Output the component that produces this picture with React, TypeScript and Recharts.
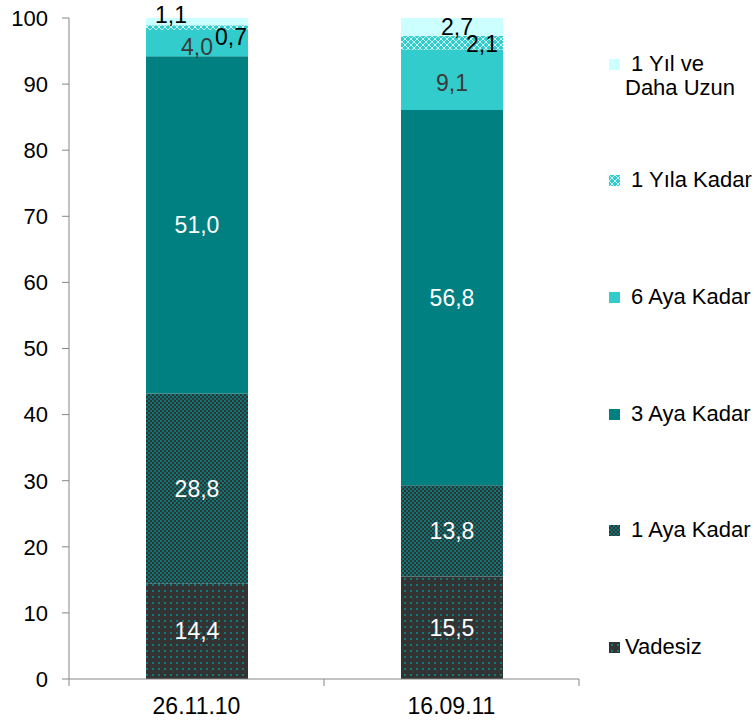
import React from 'react';
import { BarChart, Bar, XAxis, YAxis, LabelList } from 'recharts';

const categories = ['26.11.10', '16.09.11'];
const vadesiz = [14.4, 15.5];
const ayaKadar1 = [28.8, 13.8];
const ayaKadar3 = [51.0, 56.8];
const ayaKadar6 = [4.0, 9.1];
const yilaKadar1 = [0.7, 2.1];
const yilVeUzun = [1.1, 2.7];
const yTicks = [0, 10, 20, 30, 40, 50, 60, 70, 80, 90, 100];

const data = categories.map((name, i) => ({
	name,
	vadesiz: vadesiz[i],
	ay1: ayaKadar1[i],
	ay3: ayaKadar3[i],
	ay6: ayaKadar6[i],
	yil1: yilaKadar1[i],
	yilUzun: yilVeUzun[i],
}));

const FONT = '"Liberation Sans", Arial, sans-serif';
const W = 754;
const H = 721;
const MARGIN = { top: 18, right: 175, bottom: 12, left: 0 };
const Y_WIDTH = 69;
const HALF_BAND = (W - MARGIN.left - MARGIN.right - Y_WIDTH) / (2 * categories.length);

// bottom to top; offsets are label nudges per bar [dx, dy]
const series = [
	{ key: 'vadesiz', name: 'Vadesiz', fill: 'url(#patVadesiz)', labelColor: '#ffffff', offsets: [[0, 0], [0, 0]] },
	{ key: 'ay1', name: ' 1 Aya Kadar', fill: 'url(#patAy1)', labelColor: '#ffffff', offsets: [[0, 0], [0, 0]] },
	{ key: 'ay3', name: ' 3 Aya Kadar', fill: '#008080', labelColor: '#ffffff', offsets: [[0, 0], [0, 0]] },
	{ key: 'ay6', name: ' 6 Aya Kadar', fill: '#33cccc', labelColor: '#3a3a3a', offsets: [[0, 4], [0, 3]] },
	{ key: 'yil1', name: ' 1 Yıla Kadar', fill: 'url(#patYil1)', labelColor: '#000000', offsets: [[34, 9], [30, 1]] },
	{ key: 'yilUzun', name: ' 1 Yıl ve\nDaha Uzun', fill: '#ccffff', labelColor: '#000000', offsets: [[-26, -7], [5, 0]] },
];

const fmt = (v: number) => v.toFixed(1).replace('.', ',');

const makeLabel = (s: (typeof series)[number]) => (props: any) => {
	const { x, y, width, height, value, index } = props;
	const off = s.offsets[index] || [0, 0];
	return (
		<text
			x={Number(x) + Number(width) / 2 + off[0]}
			y={Number(y) + Number(height) / 2 + off[1]}
			textAnchor='middle'
			dominantBaseline='central'
			fill={s.labelColor}
			fontSize={23}
			fontFamily={FONT}
		>
			{fmt(Number(value))}
		</text>
	);
};

const XTick = (props: any) => {
	const { x, y, payload, index } = props;
	const last = index === categories.length - 1;
	return (
		<g>
			<line x1={x - HALF_BAND} x2={x - HALF_BAND} y1={y} y2={y + 7} stroke='#868686' />
			{last && <line x1={x + HALF_BAND} x2={x + HALF_BAND} y1={y} y2={y + 7} stroke='#868686' />}
			<text x={x} y={y + 35} textAnchor='middle' fontSize={23} fontFamily={FONT} fill='#000'>
				{payload.value}
			</text>
		</g>
	);
};

function Patterns() {
	return (
		<defs>
			<pattern id='patVadesiz' width='6' height='6' patternUnits='userSpaceOnUse'>
				<rect width='6' height='6' fill='#333333' />
				<circle cx='3' cy='3' r='1.1' fill='#0a8a8a' />
			</pattern>
			<pattern id='patAy1' width='4' height='4' patternUnits='userSpaceOnUse'>
				<rect width='4' height='4' fill='#333333' />
				<rect width='2' height='2' fill='#0b7676' />
				<rect x='2' y='2' width='2' height='2' fill='#0b7676' />
			</pattern>
			<pattern id='patYil1' width='6' height='6' patternUnits='userSpaceOnUse'>
				<rect width='6' height='6' fill='#33cccc' />
				<path d='M0,0 L6,6 M6,0 L0,6' stroke='#ffffff' strokeWidth='1' opacity='0.75' />
			</pattern>
		</defs>
	);
}

export default function App() {
	const legendItems = [...series].reverse();
	return (
		<div style={{ position: 'absolute', left: 0, top: 0, width: W, height: H, background: '#fff' }}>
			<BarChart width={W} height={H} data={data} margin={MARGIN} barSize={102}>
				<Patterns />
				<XAxis
					dataKey='name'
					axisLine={{ stroke: '#868686' }}
					tickLine={false}
					tickSize={0}
					tickMargin={0}
					height={30}
					tick={<XTick />}
				/>
				<YAxis
					domain={[0, 100]}
					ticks={yTicks}
					width={Y_WIDTH}
					axisLine={{ stroke: '#868686' }}
					tickLine={{ stroke: '#868686' }}
					tickSize={7}
					tickMargin={14}
					tick={{ fontSize: 22, fontFamily: FONT, fill: '#000' }}
				/>
				{series.map((s) => (
					<Bar key={s.key} dataKey={s.key} name={s.name} stackId='a' fill={s.fill} isAnimationActive={false}>
						<LabelList dataKey={s.key} content={makeLabel(s)} />
					</Bar>
				))}
			</BarChart>
			{legendItems.map((s, i) => {
				const cy = 63.5 + i * 116.7;
				return (
					<div key={s.key} style={{ position: 'absolute', left: 609, top: cy - 12, display: 'flex', alignItems: 'flex-start' }}>
						<svg width={11} height={11} style={{ marginTop: 7, flexShrink: 0 }}>
							<rect width={11} height={11} fill={s.fill} />
						</svg>
						<span
							style={{
								marginLeft: 5,
								fontFamily: FONT,
								fontSize: 22,
								lineHeight: '24px',
								whiteSpace: 'pre',
								color: '#000',
							}}
						>
							{s.name}
						</span>
					</div>
				);
			})}
		</div>
	);
}
